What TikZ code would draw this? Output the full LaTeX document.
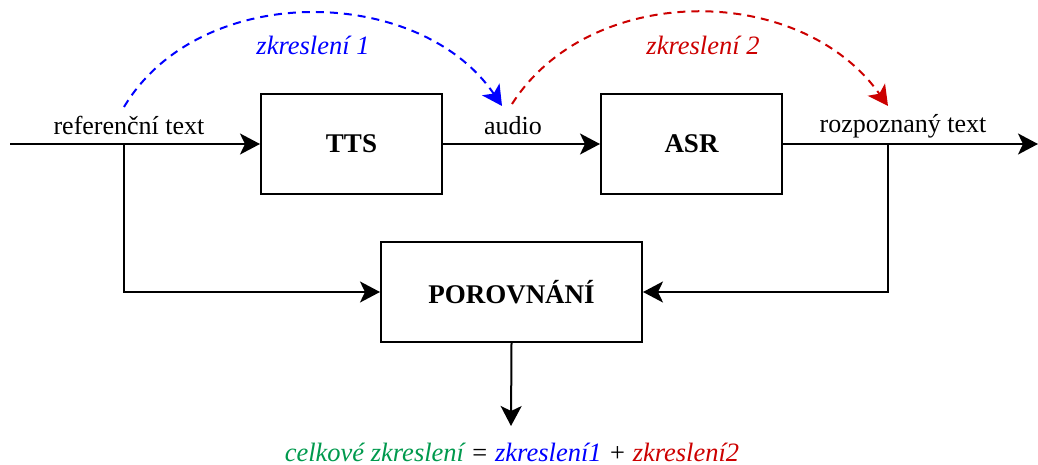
\documentclass[tikz,border=0pt]{standalone}
\usepackage{fontspec}
\setmainfont{Liberation Serif}
\usetikzlibrary{arrows.meta}
\definecolor{zblue}{RGB}{0,0,255}
\definecolor{zred}{RGB}{204,0,0}
\definecolor{zgreen}{RGB}{0,153,77}
\begin{document}
\begin{tikzpicture}[x=1pt,y=-1pt,
  tip/.style={-{Stealth[length=20pt,width=21pt,inset=5pt]}},
  block/.style={draw,line width=2pt,minimum width=181pt,minimum height=100pt,
    inner sep=0pt,font=\fontsize{27}{30}\selectfont\bfseries},
  lbl/.style={inner sep=0pt,font=\fontsize{26}{30}\selectfont},
  flow/.style={line width=2pt,tip},
  dist/.style={line width=2pt,dash pattern=on 8pt off 6pt,tip},
  ital/.style={inner sep=0pt,font=\fontsize{26.5}{30}\selectfont\itshape}]
\useasboundingbox (0,0) rectangle (1038,465);

% processing blocks
\node[block] (tts) at (351.5,144) {TTS};
\node[block] (asr) at (691.5,144) {ASR};
\node[block,minimum width=261pt] (por) at (511.5,292) {POROVNÁNÍ};

% junction points on the main line
\coordinate (in) at (10,144);
\coordinate (j1) at (124,144);
\coordinate (j2) at (888,144);
\coordinate (out) at (1038,144);
\coordinate (res) at (511,426);

% main signal path
\draw[flow] (in) -- (tts.west);
\draw[flow] (tts.east) -- (asr.west);
\draw[flow] (asr.east) -- (out);

% branches into the comparison block
\draw[flow] (j1) |- (por.west);
\draw[flow] (j2) |- (por.east);
\draw[flow] (por.south) -- (res);

% signal labels
\node[lbl,anchor=base] (lref) at (129,135) {referenční text};
\node[lbl,anchor=base] (laud) at (513,135) {audio};
\node[lbl,anchor=base] (lrec) at (903,133) {rozpoznaný text};

% distortion arcs
\coordinate (b0) at (124,107);
\coordinate (b1) at (502,106);
\coordinate (r0) at (512,104);
\coordinate (r1) at (888,106);
\draw[dist,zblue] (b0) .. controls (200,-20) and (420,-15) .. (b1);
\draw[dist,zred] (r0) .. controls (590,-18) and (800,-18) .. (r1);
\node[ital,text=zblue] (d1) at (313,45) {zkreslení 1};
\node[ital,text=zred] (d2) at (703,45) {zkreslení 2};

% overall result
\node[ital,anchor=base] (total) at (512,461)
  {\textcolor{zgreen}{celkové zkreslení} = \textcolor{zblue}{zkreslení1} + \textcolor{zred}{zkreslení2}};
\end{tikzpicture}
\end{document}
